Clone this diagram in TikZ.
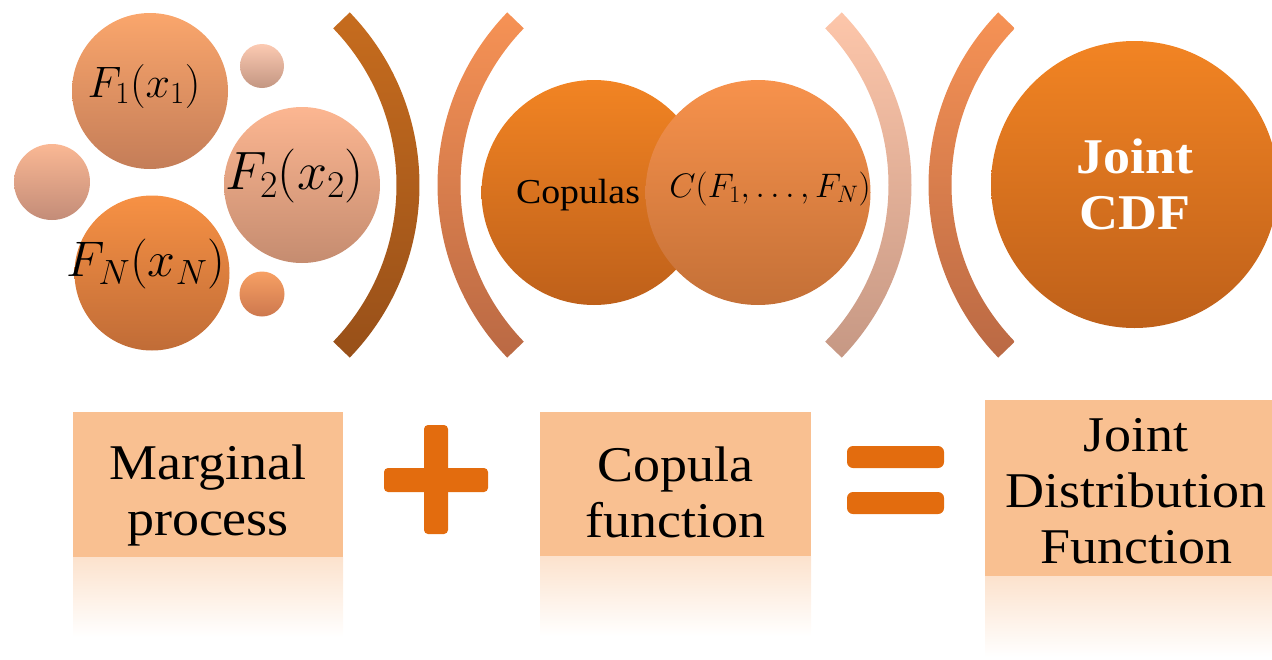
\RequirePackage{fix-cm}
\documentclass[tikz,border=0pt]{standalone}
\usepackage{fontspec}
\setmainfont{Liberation Serif}[FakeStretch=1.08]
\definecolor{fAt}{RGB}{250,166,108}\definecolor{fAb}{RGB}{196,125,88}
\definecolor{sAt}{RGB}{252,202,178}\definecolor{sAb}{RGB}{195,150,130}
\definecolor{lAt}{RGB}{250,184,148}\definecolor{lAb}{RGB}{195,140,120}
\definecolor{fBt}{RGB}{252,182,145}\definecolor{fBb}{RGB}{197,140,112}
\definecolor{fNt}{RGB}{247,145,68}\definecolor{fNb}{RGB}{192,108,55}
\definecolor{sBt}{RGB}{247,160,100}\definecolor{sBb}{RGB}{205,120,78}
\definecolor{pAt}{RGB}{198,108,30}\definecolor{pAb}{RGB}{152,80,25}
\definecolor{pBt}{RGB}{246,146,85}\definecolor{pBb}{RGB}{186,105,68}
\definecolor{pCt}{RGB}{253,198,170}\definecolor{pCb}{RGB}{198,152,132}
\definecolor{deepT}{RGB}{242,132,35}\definecolor{deepB}{RGB}{190,96,26}
\definecolor{cCt}{RGB}{247,146,76}\definecolor{cCb}{RGB}{196,112,55}
\definecolor{symb}{RGB}{227,108,14}
\definecolor{boxc}{RGB}{249,192,145}
\definecolor{reflc}{RGB}{252,226,205}
\begin{document}
\begin{tikzpicture}[x=1pt,y=-1pt,
  ball/.style={circle,inner sep=0pt,draw=none},
  boxnode/.style={rectangle,fill=boxc,draw=none,inner sep=0pt},
  boxtext/.style={align=center,font=\fontsize{50}{56}\selectfont,inner sep=0pt},
  symbar/.style={fill=symb,rounded corners=4}]
\useasboundingbox (0,0) rectangle (1272,659);
\clip (0,0) rectangle (1272,659);
% brackets
\shade[top color=pAt,bottom color=pAb] ([shift={(171,185)}]-44:248.5) arc[start angle=-44,end angle=44,radius=248.5] -- ([shift={(171,185)}]44:225.5) arc[start angle=44,end angle=-44,radius=225.5] -- cycle;
\shade[top color=pBt,bottom color=pBb] ([shift={(686,185)}]136:248.5) arc[start angle=136,end angle=224,radius=248.5] -- ([shift={(686,185)}]224:225.5) arc[start angle=224,end angle=136,radius=225.5] -- cycle;
\shade[top color=pCt,bottom color=pCb] ([shift={(663,185)}]-44:248.5) arc[start angle=-44,end angle=44,radius=248.5] -- ([shift={(663,185)}]44:225.5) arc[start angle=44,end angle=-44,radius=225.5] -- cycle;
\shade[top color=pBt,bottom color=pBb] ([shift={(1177,185)}]136:248.5) arc[start angle=136,end angle=224,radius=248.5] -- ([shift={(1177,185)}]224:225.5) arc[start angle=224,end angle=136,radius=225.5] -- cycle;
% marginal circles
\node[ball,minimum size=156,top color=fAt,bottom color=fAb] (f1) at (150,91) {};
\node[ball,minimum size=44,top color=sAt,bottom color=sAb] (s1) at (262,66) {};
\node[ball,minimum size=76,top color=lAt,bottom color=lAb] (s2) at (52,182) {};
\node[ball,minimum size=156,top color=fBt,bottom color=fBb] (f2) at (302,185) {};
\node[ball,minimum size=155,top color=fNt,bottom color=fNb] (fn) at (152,273) {};
\node[ball,minimum size=45,top color=sBt,bottom color=sBb] (s3) at (262,294) {};
\node[font=\fontsize{44}{46}\selectfont] (t1) at (144,86) {$F_1(x_1)$};
\node[font=\fontsize{54}{56}\selectfont] (t2) at (295,176) {$F_2(x_2)$};
\node[font=\fontsize{50}{52}\selectfont] (tn) at (146,264) {$F_N(x_N)$};
% copula circles
\node[ball,minimum size=225,top color=deepT,bottom color=deepB] (cop) at (594,192.5) {};
\node[font=\fontsize{35}{37}\selectfont] (copt) at (578,195) {Copulas};
\node[ball,minimum size=225,top color=cCt,bottom color=cCb] (cf) at (758,192.5) {};
\node[font=\fontsize{34}{36}\selectfont] (cft) at (770,189) {$C(F_1,\ldots,F_N)$};
% joint circle
\node[ball,minimum size=287,top color=deepT,bottom color=deepB] (jc) at (1134.5,184.5) {};
\node[align=center,text=white,font=\fontsize{50}{56}\selectfont\bfseries] (jct) at (1135,184.5) {Joint\\CDF};
% bottom boxes with reflections
\shade[top color=reflc,bottom color=white] (73,557) rectangle (343,637);
\shade[top color=reflc,bottom color=white] (540,556) rectangle (811,636);
\shade[top color=reflc,bottom color=white] (985,576) rectangle (1287,657);
\node[boxnode,minimum width=270,minimum height=145] (b1) at (208,484.5) {};
\node[boxnode,minimum width=271,minimum height=144] (b2) at (675.5,484) {};
\node[boxnode,minimum width=302,minimum height=176] (b3) at (1136,488) {};
\node[boxtext] (b1t) at (208,495) {Marginal\\process};
\node[boxtext] (b2t) at (675.5,492) {Copula\\function};
\node[boxtext] (b3t) at (1136,491) {Joint\\Distribution\\Function};
% plus and equals
\fill[symbar] (424,425) rectangle (448,534);
\fill[symbar] (384,468) rectangle (488,492);
\fill[symbar,rounded corners=6] (847,446) rectangle (944,468);
\fill[symbar,rounded corners=6] (847,492) rectangle (944,514);
\end{tikzpicture}
\end{document}
